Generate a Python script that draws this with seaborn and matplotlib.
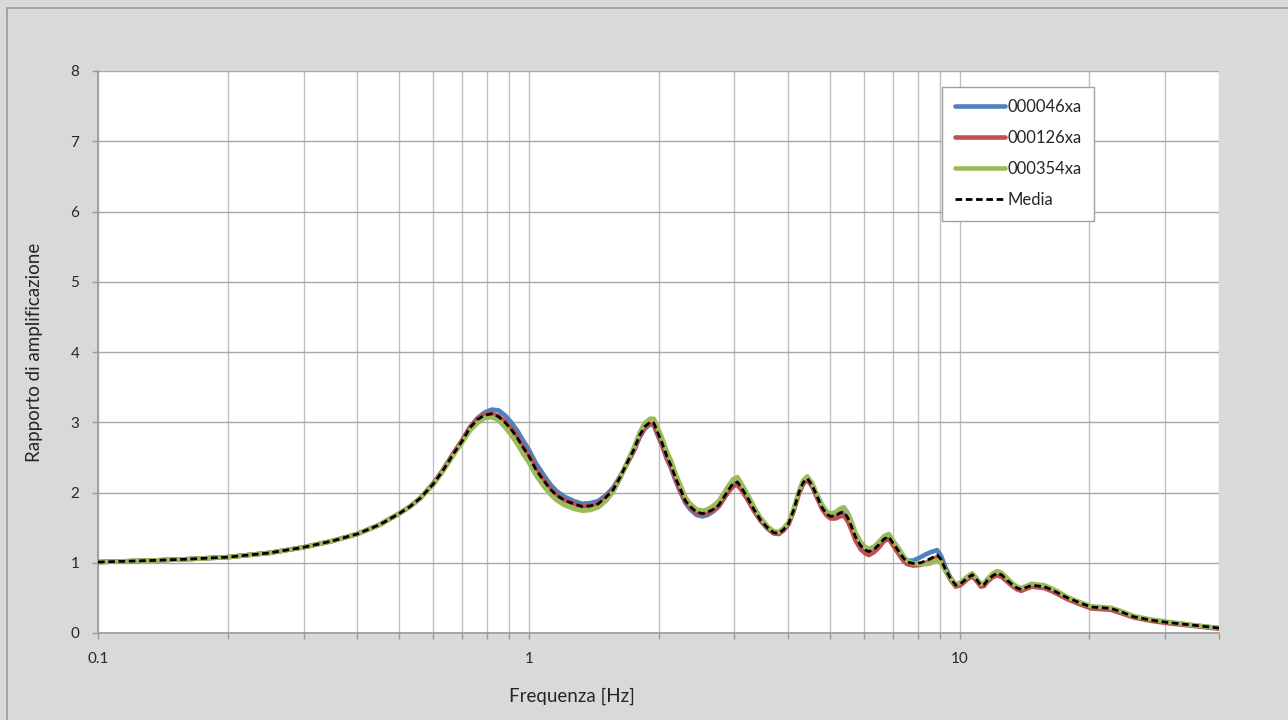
import numpy as np
import pandas as pd
import matplotlib
matplotlib.use("Agg")
import matplotlib.pyplot as plt
import seaborn as sns
from matplotlib.patches import Rectangle
from matplotlib.ticker import FixedLocator, NullFormatter

# frequency [Hz]
freq = [0.1, 0.13, 0.16, 0.2, 0.25, 0.3, 0.35, 0.4, 0.45, 0.5,
        0.53, 0.56, 0.6, 0.63, 0.67, 0.7, 0.73, 0.76, 0.79, 0.82,
        0.85, 0.88, 0.91, 0.94, 0.97, 1.0, 1.04, 1.08, 1.12, 1.16,
        1.21, 1.27, 1.33, 1.39, 1.45, 1.51, 1.57, 1.63, 1.69, 1.75,
        1.81, 1.86, 1.91, 1.95, 1.99, 2.04, 2.09, 2.14, 2.2, 2.25,
        2.31, 2.37, 2.45, 2.53, 2.6, 2.68, 2.76, 2.84, 2.91, 2.98,
        3.05, 3.12, 3.21, 3.33, 3.45, 3.58, 3.7, 3.8, 3.9, 4.01,
        4.12, 4.23, 4.33, 4.43, 4.55, 4.67, 4.8, 4.92, 5.02, 5.15,
        5.28, 5.39, 5.5, 5.6, 5.73, 5.9, 6.05, 6.16, 6.33, 6.5,
        6.68, 6.85, 7.0, 7.23, 7.4, 7.56, 7.8, 8.12, 8.35, 8.56,
        8.87, 9.05, 9.28, 9.5, 9.79, 10.05, 10.4, 10.7, 10.95, 11.2,
        11.4, 11.6, 11.9, 12.2, 12.5, 12.9, 13.3, 13.6, 13.9, 14.3,
        14.7, 15.2, 15.7, 16.3, 16.8, 17.8, 19.0, 20.2, 21.3, 22.4,
        23.5, 25.4, 28.0, 30.4, 35.0, 40.0]

media = [1.01, 1.03, 1.05, 1.08, 1.14, 1.22, 1.31, 1.41, 1.54, 1.70,
         1.80, 1.92, 2.12, 2.30, 2.56, 2.73, 2.92, 3.04, 3.10, 3.12,
         3.08, 3.00, 2.90, 2.78, 2.64, 2.52, 2.32, 2.18, 2.05, 1.96,
         1.89, 1.84, 1.80, 1.81, 1.84, 1.93, 2.04, 2.22, 2.42, 2.60,
         2.82, 2.94, 3.00, 2.99, 2.86, 2.70, 2.52, 2.38, 2.18, 2.04,
         1.88, 1.80, 1.72, 1.70, 1.72, 1.76, 1.82, 1.94, 2.04, 2.13,
         2.15, 2.06, 1.94, 1.76, 1.61, 1.50, 1.43, 1.42, 1.47, 1.56,
         1.75, 1.99, 2.14, 2.20, 2.10, 1.94, 1.78, 1.69, 1.66, 1.67,
         1.71, 1.72, 1.64, 1.53, 1.37, 1.24, 1.18, 1.16, 1.19, 1.26,
         1.34, 1.37, 1.28, 1.16, 1.07, 1.01, 0.99, 1.00, 1.03, 1.06,
         1.11, 1.05, 0.90, 0.79, 0.68, 0.70, 0.78, 0.83, 0.76, 0.68,
         0.69, 0.75, 0.81, 0.85, 0.83, 0.75, 0.68, 0.64, 0.62, 0.65,
         0.68, 0.67, 0.66, 0.62, 0.58, 0.50, 0.43, 0.37, 0.36, 0.35,
         0.31, 0.23, 0.18, 0.15, 0.11, 0.07]

s046 = [1.01, 1.03, 1.05, 1.08, 1.14, 1.22, 1.31, 1.41, 1.54, 1.70,
        1.80, 1.92, 2.12, 2.30, 2.56, 2.74, 2.92, 3.06, 3.14, 3.18,
        3.17, 3.10, 3.00, 2.88, 2.74, 2.61, 2.41, 2.26, 2.12, 2.02,
        1.94, 1.88, 1.84, 1.85, 1.88, 1.96, 2.07, 2.23, 2.41, 2.58,
        2.79, 2.91, 2.97, 2.96, 2.82, 2.66, 2.48, 2.34, 2.14, 2.00,
        1.85, 1.76, 1.68, 1.66, 1.68, 1.73, 1.80, 1.92, 2.03, 2.12,
        2.14, 2.06, 1.93, 1.75, 1.60, 1.49, 1.42, 1.41, 1.46, 1.56,
        1.75, 1.99, 2.14, 2.20, 2.10, 1.94, 1.77, 1.68, 1.65, 1.66,
        1.71, 1.72, 1.64, 1.53, 1.37, 1.25, 1.19, 1.17, 1.20, 1.26,
        1.34, 1.36, 1.28, 1.16, 1.08, 1.03, 1.03, 1.08, 1.12, 1.15,
        1.18, 1.10, 0.93, 0.80, 0.68, 0.70, 0.79, 0.83, 0.76, 0.68,
        0.68, 0.74, 0.80, 0.84, 0.82, 0.74, 0.67, 0.64, 0.62, 0.65,
        0.68, 0.67, 0.66, 0.62, 0.58, 0.50, 0.43, 0.37, 0.36, 0.35,
        0.31, 0.23, 0.18, 0.15, 0.11, 0.07]

s126 = [1.01, 1.03, 1.05, 1.08, 1.14, 1.22, 1.31, 1.41, 1.54, 1.70,
        1.80, 1.92, 2.13, 2.31, 2.57, 2.74, 2.93, 3.05, 3.11, 3.12,
        3.09, 3.01, 2.91, 2.79, 2.65, 2.53, 2.33, 2.19, 2.06, 1.96,
        1.89, 1.84, 1.80, 1.81, 1.84, 1.93, 2.04, 2.22, 2.41, 2.59,
        2.81, 2.93, 2.98, 2.97, 2.84, 2.68, 2.50, 2.36, 2.16, 2.02,
        1.87, 1.79, 1.71, 1.69, 1.71, 1.75, 1.81, 1.92, 2.01, 2.09,
        2.11, 2.03, 1.91, 1.74, 1.60, 1.49, 1.42, 1.41, 1.46, 1.55,
        1.74, 1.97, 2.12, 2.18, 2.08, 1.92, 1.76, 1.67, 1.63, 1.63,
        1.66, 1.67, 1.59, 1.48, 1.32, 1.19, 1.13, 1.11, 1.15, 1.22,
        1.31, 1.34, 1.25, 1.12, 1.03, 0.98, 0.96, 0.97, 1.00, 1.03,
        1.08, 1.03, 0.88, 0.77, 0.66, 0.68, 0.76, 0.81, 0.74, 0.66,
        0.67, 0.73, 0.79, 0.82, 0.80, 0.73, 0.66, 0.62, 0.60, 0.63,
        0.66, 0.65, 0.64, 0.60, 0.56, 0.48, 0.41, 0.35, 0.34, 0.33,
        0.29, 0.22, 0.17, 0.14, 0.10, 0.06]

s354 = [1.01, 1.03, 1.05, 1.08, 1.14, 1.22, 1.31, 1.41, 1.54, 1.70,
        1.80, 1.92, 2.11, 2.29, 2.54, 2.71, 2.88, 2.99, 3.06, 3.07,
        3.03, 2.93, 2.82, 2.69, 2.55, 2.43, 2.24, 2.10, 1.98, 1.89,
        1.82, 1.77, 1.74, 1.75, 1.79, 1.88, 2.01, 2.20, 2.43, 2.63,
        2.86, 2.99, 3.05, 3.05, 2.93, 2.77, 2.59, 2.45, 2.24, 2.10,
        1.93, 1.84, 1.76, 1.74, 1.76, 1.81, 1.88, 2.00, 2.10, 2.19,
        2.22, 2.12, 1.99, 1.80, 1.64, 1.52, 1.45, 1.44, 1.49, 1.58,
        1.77, 2.01, 2.17, 2.23, 2.13, 1.97, 1.82, 1.73, 1.70, 1.72,
        1.77, 1.79, 1.71, 1.60, 1.43, 1.29, 1.22, 1.20, 1.23, 1.30,
        1.38, 1.41, 1.32, 1.20, 1.10, 1.03, 0.99, 0.98, 0.98, 0.99,
        1.04, 1.00, 0.88, 0.79, 0.69, 0.72, 0.80, 0.85, 0.78, 0.70,
        0.71, 0.77, 0.84, 0.88, 0.86, 0.78, 0.70, 0.66, 0.64, 0.67,
        0.70, 0.69, 0.68, 0.64, 0.60, 0.51, 0.44, 0.38, 0.37, 0.36,
        0.32, 0.24, 0.19, 0.16, 0.11, 0.07]

series_names = ["000046xa", "000126xa", "000354xa"]
series_colors = ["#4F81BD", "#C0504D", "#9BBB59"]

sns.set_style("white")
plt.rcParams["font.family"] = ["Lato", "DejaVu Sans"]

fig = plt.figure(figsize=(12.88, 7.2), dpi=100)
fig.patch.set_facecolor("#D9D9D9")
fig.patches.append(Rectangle((7 / 1288, -0.1), 1.2, (712 / 720) + 0.1,
                             transform=fig.transFigure, fill=False,
                             edgecolor="#9A9A9A", linewidth=1.2))

ax = fig.add_axes([98 / 1288, 87 / 720, 1121 / 1288, 562 / 720])
ax.set_facecolor("white")

for name, vals, col in zip(series_names, [s046, s126, s354], series_colors):
    df = pd.DataFrame({"freq": freq, "val": vals})
    sns.lineplot(data=df, x="freq", y="val", color=col, linewidth=3.3,
                 label=name, ax=ax, zorder=3)

dfm = pd.DataFrame({"freq": freq, "val": media})
sns.lineplot(data=dfm, x="freq", y="val", color="black", linewidth=2.0,
             label="Media", ax=ax, zorder=4)
ax.lines[-1].set_dashes([2.4, 1.3])

ax.set_xscale("log")
ax.set_xlim(0.1, 40)
ax.set_ylim(0, 8)
ax.set_yticks(range(0, 9))

major = [0.1, 1, 10]
minor = [0.2, 0.3, 0.4, 0.5, 0.6, 0.7, 0.8, 0.9, 2, 3, 4, 5, 6, 7, 8, 9, 20, 30, 40]
ax.xaxis.set_major_locator(FixedLocator(major))
ax.xaxis.set_minor_locator(FixedLocator(minor))
ax.xaxis.set_minor_formatter(NullFormatter())
ax.set_xticklabels(["0.1", "1", "10"])

ax.grid(True, which="both", axis="x", color="#C0C0C0", linewidth=1.0, zorder=0)
ax.grid(True, which="major", axis="y", color="#A8A8A8", linewidth=1.0, zorder=0)
ax.set_axisbelow(True)

for side in ["top", "right"]:
    ax.spines[side].set_visible(False)
for side in ["left", "bottom"]:
    ax.spines[side].set_color("#9A9A9A")
    ax.spines[side].set_linewidth(1.2)

ax.tick_params(axis="both", which="both", direction="out", length=4.5,
               color="#9A9A9A", width=1.0, labelsize=11, labelcolor="#262626")
ax.tick_params(axis="x", which="both", pad=9, bottom=True)
ax.tick_params(axis="y", pad=9, left=True)

ax.set_xlabel("Frequenza [Hz]", fontsize=13.5, color="#262626")
ax.set_ylabel("Rapporto di amplificazione", fontsize=13.5, color="#262626")
ax.xaxis.set_label_coords(0.423, -0.098)
ax.yaxis.set_label_coords(-0.049, 0.5)

leg = ax.legend(loc="upper left", bbox_to_anchor=(0.753, 0.972), frameon=True,
                fancybox=False, framealpha=1, edgecolor="#A0A0A0", fontsize=12,
                labelspacing=0.9, handlelength=3.0, handletextpad=0.15,
                borderpad=0.75, borderaxespad=0)
leg.get_frame().set_linewidth(1.0)
for t in leg.get_texts():
    t.set_color("#262626")

plt.savefig("out.png", dpi=100, facecolor=fig.get_facecolor())
